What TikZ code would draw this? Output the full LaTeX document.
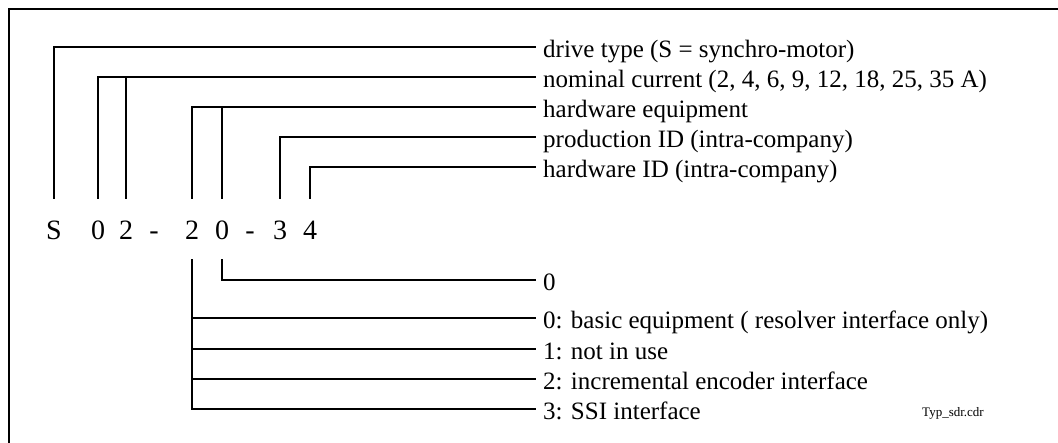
\documentclass[tikz,border=0pt]{standalone}
\usepackage{fontspec}
\setmainfont{Liberation Serif}
\begin{document}
\begin{tikzpicture}[x=1pt,y=-1pt,
  conn/.style={line width=1.2pt},
  digit/.style={anchor=base,inner sep=0pt,text height=41pt,text depth=19pt,font=\fontsize{28}{28}\selectfont},
  lbl/.style={anchor=west,inner xsep=7pt,inner ysep=0pt,text height=21pt,text depth=0pt,font=\fontsize{25}{25}\selectfont}]
\useasboundingbox (0,0) rectangle (1058,443);
\draw[line width=2.5pt] (9,460) -- (9,9) -- (1080,9);
% code characters
\node[digit] (cS) at (54,240) {S};
\node[digit] (c1) at (98,240) {0};
\node[digit] (c2) at (126,240) {2};
\node[digit] (d1) at (154,240) {-};
\node[digit] (c4) at (192,240) {2};
\node[digit] (c5) at (222,240) {0};
\node[digit] (d2) at (250,240) {-};
\node[digit] (c7) at (280,240) {3};
\node[digit] (c8) at (310,240) {4};
% top labels
\node[lbl] (t1) at (536,47) {drive type (S = synchro-motor)};
\node[lbl] (t2) at (536,77) {nominal current (2, 4, 6, 9, 12, 18, 25, 35 A)};
\node[lbl] (t3) at (536,107) {hardware equipment};
\node[lbl] (t4) at (536,137) {production ID (intra-company)};
\node[lbl] (t5) at (536,167) {hardware ID (intra-company)};
% bottom labels
\node[lbl] (b0) at (536,280) {0};
\node[lbl] (b1) at (536,318) {0: basic equipment ( resolver interface only)};
\node[lbl] (b2) at (536,349) {1: not in use};
\node[lbl] (b3) at (536,379) {2: incremental encoder interface};
\node[lbl] (b4) at (536,409) {3: SSI interface};
\node[anchor=center,inner sep=0pt,font=\fontsize{13}{13}\selectfont] (fn) at (953,413) {Typ\_sdr.cdr};
% connectors top
\draw[conn] (cS.north) |- (t1.west);
\draw[conn] (c1.north) |- (t2.west);
\draw[conn] (c2.north) -- (c2.north |- t2.west);
\draw[conn] (c4.north) |- (t3.west);
\draw[conn] (c5.north) -- (c5.north |- t3.west);
\draw[conn] (c7.north) |- (t4.west);
\draw[conn] (c8.north) |- (t5.west);
% connectors bottom
\draw[conn] (c5.south) |- (b0.west);
\draw[conn] (c4.south) |- (b4.west);
\draw[conn] (c4.south |- b1.west) -- (b1.west);
\draw[conn] (c4.south |- b2.west) -- (b2.west);
\draw[conn] (c4.south |- b3.west) -- (b3.west);
\end{tikzpicture}
\end{document}
